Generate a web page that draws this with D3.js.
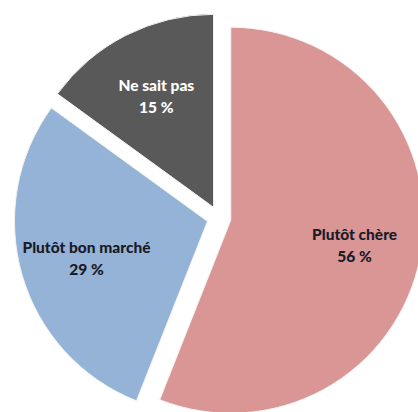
<!DOCTYPE html>
<html>
<head>
<meta charset="utf-8">
<script src="https://cdn.jsdelivr.net/npm/d3@7"></script>
<style>
  body { margin: 0; background: #fff; }
  svg { display: block; }
</style>
</head>
<body>
<svg id="canvas" width="418" height="412"></svg>
<script>
// answers + shares (clockwise from 12 o'clock)
let labels = ['Plutôt chère', 'Plutôt bon marché', 'Ne sait pas']
let values = [56, 29, 15]
let colors = ['#d99694', '#95b3d7', '#595959']
let textColors = ['#1a1a28', '#1a1a28', '#ffffff']

let width = 418
let height = 412
let cx = 219
let cy = 218
let radius = 193
let explode = 12

let canvas = d3.select('#canvas')

let pie = d3.pie().sort(null).value(d => d.value)
let arcs = pie(values.map((v, i) => ({ label: labels[i], value: v, i: i })))

let arc = d3.arc().innerRadius(0).outerRadius(radius)
let labelArc = d3.arc().innerRadius(126).outerRadius(126)

let g = canvas.append('g').attr('transform', 'translate(' + cx + ',' + cy + ')')

let slice = g.selectAll('g.slice')
    .data(arcs)
    .enter()
    .append('g')
    .attr('class', 'slice')
    .attr('transform', (d) => {
        let mid = (d.startAngle + d.endAngle) / 2
        let dx = Math.sin(mid) * explode
        let dy = -Math.cos(mid) * explode
        return 'translate(' + dx + ',' + dy + ')'
    })

slice.append('path')
    .attr('d', arc)
    .attr('fill', d => colors[d.data.i])
    .attr('stroke', '#f2f2f2')
    .attr('stroke-width', 1)

let txt = slice.append('text')
    .attr('transform', d => 'translate(' + labelArc.centroid(d) + ')')
    .attr('text-anchor', 'middle')
    .style('font-family', 'Lato, "Open Sans", sans-serif')
    .style('font-weight', '900')
    .style('font-size', '15.5px')
    .attr('fill', d => textColors[d.data.i])

txt.append('tspan')
    .attr('x', 0)
    .attr('y', -4)
    .text(d => d.data.label)

txt.append('tspan')
    .attr('x', 0)
    .attr('y', 18)
    .text(d => d.data.value + ' %')
</script>
</body>
</html>
